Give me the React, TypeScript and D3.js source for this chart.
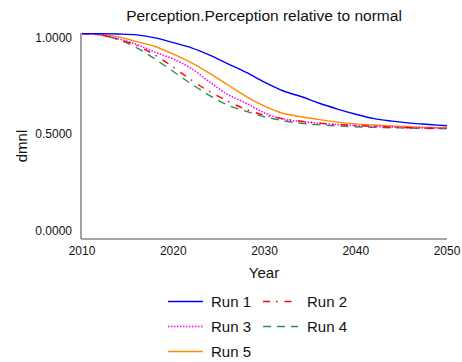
import React, { useEffect, useRef } from "react";
import * as d3 from "d3";

const years = [2010, 2012, 2014, 2016, 2018, 2020, 2022, 2024, 2026, 2028, 2030, 2032, 2034, 2036, 2038, 2040, 2042, 2044, 2046, 2048, 2050];

const run1 = [1.022, 1.022, 1.02, 1.015, 1.0, 0.975, 0.948, 0.91, 0.865, 0.82, 0.77, 0.725, 0.695, 0.66, 0.63, 0.603, 0.58, 0.567, 0.557, 0.55, 0.543];
const run2 = [1.022, 1.015, 0.993, 0.96, 0.91, 0.848, 0.78, 0.72, 0.67, 0.628, 0.598, 0.58, 0.567, 0.557, 0.55, 0.545, 0.54, 0.536, 0.533, 0.531, 0.529];
const run3 = [1.022, 1.015, 0.995, 0.965, 0.925, 0.89, 0.84, 0.77, 0.705, 0.66, 0.61, 0.578, 0.565, 0.556, 0.549, 0.544, 0.54, 0.536, 0.533, 0.531, 0.53];
const run4 = [1.022, 1.015, 0.99, 0.948, 0.89, 0.825, 0.76, 0.7, 0.65, 0.618, 0.59, 0.57, 0.556, 0.548, 0.542, 0.538, 0.535, 0.533, 0.531, 0.529, 0.528];
const run5 = [1.022, 1.018, 1.005, 0.98, 0.955, 0.915, 0.87, 0.815, 0.755, 0.695, 0.645, 0.608, 0.59, 0.575, 0.562, 0.553, 0.547, 0.542, 0.538, 0.535, 0.533];

const xTicks = [2010, 2020, 2030, 2040, 2050];
const yTicks = [0, 0.5, 1];

const series = [
  { name: "Run 1", values: run1, color: "#0000ff", dash: null, width: 1.4 },
  { name: "Run 2", values: run2, color: "#ff0000", dash: "7,6,1.5,7", width: 1.4 },
  { name: "Run 3", values: run3, color: "#ff00ff", dash: "1.5,1.5", width: 1.6 },
  { name: "Run 4", values: run4, color: "#2e8b57", dash: "8,6", width: 1.4 },
  { name: "Run 5", values: run5, color: "#ff8c00", dash: null, width: 1.4 },
];

export default function App() {
  const svgRef = useRef<SVGSVGElement>(null);

  useEffect(() => {
    if (!svgRef.current) return;
    const svg = d3.select(svgRef.current);
    svg.selectAll("*").remove();

    const font = "'Liberation Sans', Arial, sans-serif";
    const x = d3.scaleLinear().domain([2010, 2050]).range([82, 447]);
    const y = d3.scaleLinear().domain([-0.045, 1.025]).range([239, 33]);

    // Title
    svg.append("text")
      .attr("x", 264).attr("y", 21)
      .attr("text-anchor", "middle")
      .style("font-family", font).style("font-size", "15.5px")
      .attr("fill", "#111")
      .text("Perception.Perception relative to normal");

    // Axes lines
    svg.append("line").attr("x1", 81).attr("x2", 81).attr("y1", 33).attr("y2", 239)
      .attr("stroke", "#888").attr("stroke-width", 1.6);
    svg.append("line").attr("x1", 81).attr("x2", 447).attr("y1", 239).attr("y2", 239)
      .attr("stroke", "#888").attr("stroke-width", 1.6);

    // Tick labels
    svg.append("g").selectAll("text").data(yTicks).join("text")
      .attr("x", 72).attr("y", d => y(d)).attr("dy", "0.35em")
      .attr("text-anchor", "end")
      .style("font-family", font).style("font-size", "12px")
      .attr("fill", "#111")
      .text(d => d3.format(".4f")(d));

    svg.append("g").selectAll("text").data(xTicks).join("text")
      .attr("x", d => x(d)).attr("y", 255)
      .attr("text-anchor", "middle")
      .style("font-family", font).style("font-size", "12px")
      .attr("fill", "#111")
      .text(d => String(d));

    // Axis titles
    svg.append("text")
      .attr("transform", "translate(27,146) rotate(-90)")
      .attr("text-anchor", "middle")
      .style("font-family", font).style("font-size", "15px")
      .attr("fill", "#111")
      .text("dmnl");
    svg.append("text")
      .attr("x", 264).attr("y", 277.5)
      .attr("text-anchor", "middle")
      .style("font-family", font).style("font-size", "15px")
      .attr("fill", "#111")
      .text("Year");

    // Lines
    const line = d3.line<number>()
      .x((_, i) => x(years[i]))
      .y(d => y(d))
      .curve(d3.curveMonotoneX);

    const drawOrder = [4, 3, 2, 1, 0];
    drawOrder.forEach(i => {
      const s = series[i];
      const p = svg.append("path").datum(s.values)
        .attr("fill", "none")
        .attr("stroke", s.color)
        .attr("stroke-width", s.width)
        .attr("d", line);
      if (s.dash) p.attr("stroke-dasharray", s.dash);
    });

    // Legend
    const legendPos = [
      { lx: 168, len: 35, tx: 211, ty: 301.5 },
      { lx: 263, len: 30, tx: 307, ty: 301.5 },
      { lx: 168, len: 35, tx: 211, ty: 326.5 },
      { lx: 263, len: 35, tx: 307, ty: 326.5 },
      { lx: 168, len: 35, tx: 211, ty: 351.5 },
    ];
    series.forEach((s, i) => {
      const { lx, len, tx, ty } = legendPos[i];
      const l = svg.append("line")
        .attr("x1", lx).attr("x2", lx + len).attr("y1", ty).attr("y2", ty)
        .attr("stroke", s.color).attr("stroke-width", s.width);
      if (s.dash) l.attr("stroke-dasharray", s.dash);
      svg.append("text")
        .attr("x", tx).attr("y", ty).attr("dy", "0.35em")
        .style("font-family", font).style("font-size", "15px")
        .attr("fill", "#111")
        .text(s.name);
    });
  }, []);

  return (
    <svg ref={svgRef} width={462} height={362}
      style={{ position: "absolute", left: 0, top: 0, background: "#fff" }} />
  );
}
